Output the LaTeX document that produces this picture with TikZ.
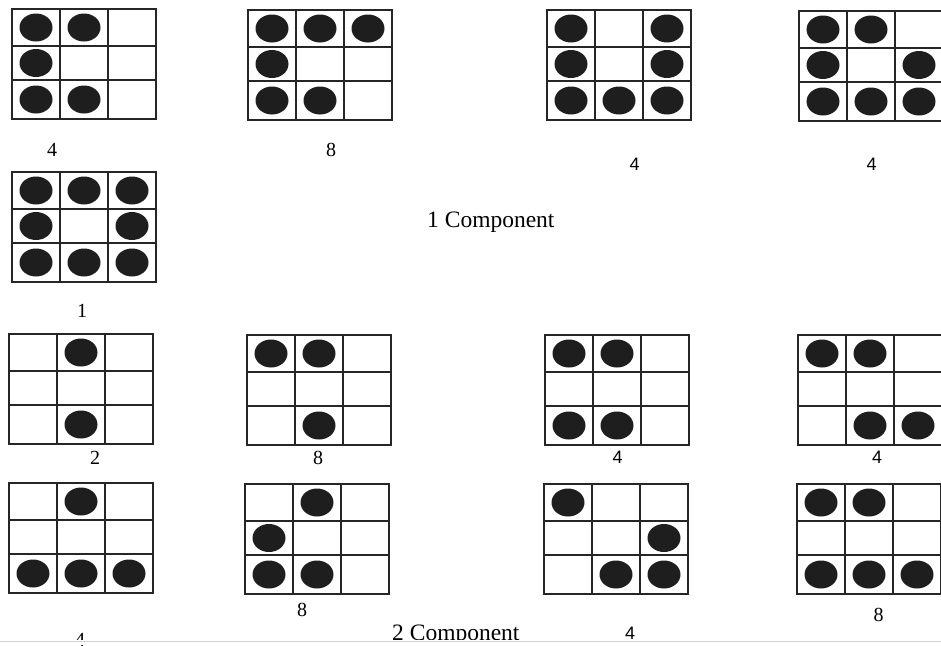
\documentclass[tikz,border=0pt]{standalone}
\usepackage{fontspec}
\setmainfont{Liberation Serif}
\newfontfamily\sansf{Liberation Sans}
\definecolor{inkc}{HTML}{1E1E1E}
\definecolor{linec}{HTML}{262626}
\tikzset{
  gridline/.style={draw=linec, line width=1.8pt},
  dotc/.style={fill=inkc},
  seriflabel/.style={inner sep=0pt, font=\fontsize{20}{20}\selectfont},
  sanslabel/.style={inner sep=0pt, font=\sansf\fontsize{18}{18}\selectfont},
  titlelabel/.style={inner sep=0pt, font=\fontsize{23.5}{23.5}\selectfont},
}
\newcommand{\dotgrid}[3]{%
  \begin{scope}[shift={(#1,#2)}]
    \foreach \r/\c [evaluate=\r as \yy using {(\r==1)*18.5+(\r==2)*54+(\r==3)*90.5}] in {#3}
      {\fill[dotc] ({48*\c-24},\yy) ellipse [x radius=16.5pt, y radius=14pt];}
    \draw[gridline] (0,0) rectangle (144,110);
    \draw[gridline] (48,0) -- (48,110) (96,0) -- (96,110) (0,37) -- (144,37) (0,71) -- (144,71);
  \end{scope}}
\begin{document}
\begin{tikzpicture}[x=1pt,y=-1pt]
\useasboundingbox (0,0) rectangle (941,645);
\clip (0,0) rectangle (941,645);
\fill[white] (0,0) rectangle (941,645);
% row 1
\dotgrid{12}{9}{1/1,1/2,2/1,3/1,3/2}
\dotgrid{248}{10}{1/1,1/2,1/3,2/1,3/1,3/2}
\dotgrid{547}{10}{1/1,1/3,2/1,2/3,3/1,3/2,3/3}
\dotgrid{799}{11}{1/1,1/2,2/1,2/3,3/1,3/2,3/3}
\node[seriflabel] (l1) at (52,150) {4};
\node[seriflabel] (l2) at (331,150) {8};
\node[sanslabel] (l3) at (634.5,164.5) {4};
\node[sanslabel] (l4) at (871.5,164.5) {4};
% row 2
\dotgrid{12}{172}{1/1,1/2,1/3,2/1,2/3,3/1,3/2,3/3}
\node[seriflabel] (l5) at (82,310.5) {1};
\node[titlelabel, anchor=base west] (t1) at (427,227) {1 Component};
% row 3
\dotgrid{9}{334}{1/2,3/2}
\dotgrid{247}{335}{1/1,1/2,3/2}
\dotgrid{545}{335}{1/1,1/2,3/1,3/2}
\dotgrid{798}{335}{1/1,1/2,3/2,3/3}
\node[seriflabel] (l6) at (95,458) {2};
\node[seriflabel] (l7) at (318,458) {8};
\node[sanslabel] (l8) at (617.5,457.5) {4};
\node[sanslabel] (l9) at (877,457.5) {4};
% row 4
\dotgrid{9}{483}{1/2,3/1,3/2,3/3}
\dotgrid{245}{484}{1/2,2/1,3/1,3/2}
\dotgrid{544}{484}{1/1,2/3,3/2,3/3}
\dotgrid{797}{484}{1/1,1/2,3/1,3/2,3/3}
\node[seriflabel, anchor=base] (l10) at (80,646) {4};
\node[seriflabel] (l11) at (302,610) {8};
\node[sanslabel, anchor=base] (l12) at (630,639) {4};
\node[seriflabel] (l13) at (878.5,614.5) {8};
\node[titlelabel, anchor=base west] (t2) at (392,640.5) {2 Component};
% bottom strip
\fill[white] (0,640) rectangle (941,645);
\draw[gray!35, line width=1.2pt] (0,641.5) -- (941,641.5);
\end{tikzpicture}
\end{document}
